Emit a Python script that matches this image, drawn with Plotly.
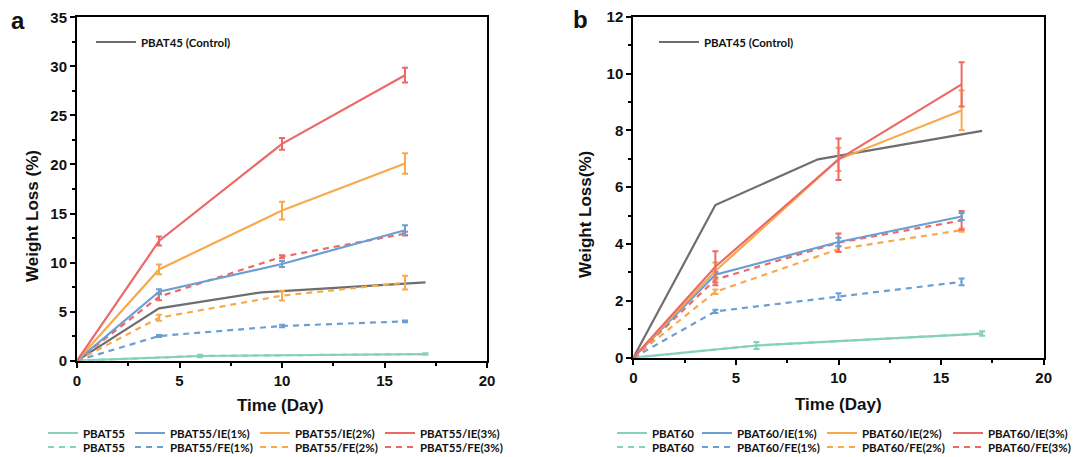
import plotly.graph_objects as go

W, H = 1086, 457

# ---------------- data ----------------
days = [0, 4, 10, 16]
days_ctrl = [0, 4, 9, 17]
days_neat = [0, 6, 17]

# panel a (PBAT55 series)
ctrl_a = [0, 5.34, 6.97, 7.99]
neat_a = [0, 0.48, 0.68]
neat_a_err = [0, 0.12, 0.08]
ie1_a = [0, 7.03, 9.86, 13.3]
ie1_a_err = [0, 0.25, 0.3, 0.5]
ie2_a = [0, 9.3, 15.3, 20.1]
ie2_a_err = [0, 0.5, 0.9, 1.05]
ie3_a = [0, 12.2, 22.1, 29.1]
ie3_a_err = [0, 0.45, 0.6, 0.75]
fe1_a = [0, 2.52, 3.54, 4.01]
fe1_a_err = [0, 0.1, 0.12, 0.1]
fe2_a = [0, 4.38, 6.63, 7.95]
fe2_a_err = [0, 0.3, 0.5, 0.7]
fe3_a = [0, 6.52, 10.6, 12.95]
fe3_a_err = [0, 0.35, 0.15, 0.2]

# panel b (PBAT60 series)
ctrl_b = [0, 5.37, 6.98, 7.98]
neat_b = [0, 0.43, 0.85]
neat_b_err = [0, 0.12, 0.08]
ie1_b = [0, 2.92, 4.07, 4.97]
ie1_b_err = [0, 0.1, 0.15, 0.12]
ie2_b = [0, 3.05, 6.98, 8.7]
ie2_b_err = [0, 0.3, 0.41, 0.7]
ie3_b = [0, 3.2, 6.98, 9.62]
ie3_b_err = [0, 0.55, 0.73, 0.78]
fe1_b = [0, 1.63, 2.15, 2.67]
fe1_b_err = [0, 0.06, 0.12, 0.12]
fe2_b = [0, 2.32, 3.82, 4.49]
fe2_b_err = [0, 0.08, 0.1, 0.06]
fe3_b = [0, 2.75, 4.05, 4.83]
fe3_b_err = [0, 0.2, 0.32, 0.33]

names_a = ["PBAT55", "PBAT55/IE(1%)", "PBAT55/IE(2%)", "PBAT55/IE(3%)",
           "PBAT55", "PBAT55/FE(1%)", "PBAT55/FE(2%)", "PBAT55/FE(3%)"]
names_b = ["PBAT60", "PBAT60/IE(1%)", "PBAT60/IE(2%)", "PBAT60/IE(3%)",
           "PBAT60", "PBAT60/FE(1%)", "PBAT60/FE(2%)", "PBAT60/FE(3%)"]
ctrl_name = "PBAT45 (Control)"

TEAL = "#86d0bd"
BLUE = "#6b9fd3"
ORANGE = "#f7aa4c"
RED = "#ec6a66"
GRAY = "#6e6e6e"
DASH = "6px,5px"

fig = go.Figure()


def add(x, y, err, name, color, dash, xa, ya, legend, lw=None):
    kw = {}
    if err is not None:
        kw["error_y"] = dict(type="data", array=err, color=color, thickness=2, width=3)
    fig.add_trace(go.Scatter(
        x=x, y=y, mode="lines", name=name,
        line=dict(color=color, width=2.2, dash=dash),
        xaxis=xa, yaxis=ya, legend=legend, cliponaxis=False,
        legendwidth=lw, **kw))


for (xa, ya, lg1, lg2, lgc, ctrl, neat, neat_err, series, names, widths) in [
    ("x", "y", "legend", "legend2", "legend5", ctrl_a, neat_a, neat_a_err,
     [(ie1_a, ie1_a_err), (ie2_a, ie2_a_err), (ie3_a, ie3_a_err),
      (fe1_a, fe1_a_err), (fe2_a, fe2_a_err), (fe3_a, fe3_a_err)], names_a,
     [42, 80, 80, 80]),
    ("x2", "y2", "legend3", "legend4", "legend6", ctrl_b, neat_b, neat_b_err,
     [(ie1_b, ie1_b_err), (ie2_b, ie2_b_err), (ie3_b, ie3_b_err),
      (fe1_b, fe1_b_err), (fe2_b, fe2_b_err), (fe3_b, fe3_b_err)], names_b,
     [40, 80, 81, 80]),
]:
    # dashed neat (legend only, hidden beneath the solid one)
    add(days_neat, neat, None, names[4], TEAL, DASH, xa, ya, lg2, widths[0])
    add(days_ctrl, ctrl, None, ctrl_name, GRAY, "solid", xa, ya, lgc)
    add(days_neat, neat, neat_err, names[0], TEAL, "solid", xa, ya, lg1, widths[0])
    cols = [BLUE, ORANGE, RED]
    for i in range(3):
        y, e = series[3 + i]
        add(days, y, e, names[5 + i], cols[i], DASH, xa, ya, lg2, widths[1 + i])
    for i in range(3):
        y, e = series[i]
        add(days, y, e, names[1 + i], cols[i], "solid", xa, ya, lg1, widths[1 + i])

tickfont = dict(family="Liberation Sans", size=15, color="#111", weight="bold")


def axis(domain, rng, dtick, mdtick):
    return dict(domain=domain, range=rng, dtick=dtick, tick0=0,
                showline=True, linecolor="black", linewidth=2, mirror=True,
                ticks="outside", ticklen=5, tickwidth=2, tickcolor="black",
                showgrid=False, zeroline=False, tickfont=tickfont,
                automargin=False, fixedrange=True,
                minor=dict(ticks="outside", ticklen=3, tickwidth=1.5,
                           tickcolor="black", dtick=mdtick, showgrid=False))


leg_font = dict(family="Lato", size=11.5, color="#111", weight="bold")


def legend(xpx, ypx, itemwidth=30):
    return dict(orientation="h", x=xpx / W, xanchor="left", y=1 - ypx / H,
                yanchor="middle", bgcolor="rgba(0,0,0,0)", font=leg_font,
                itemwidth=itemwidth, tracegroupgap=0, itemclick=False,
                itemdoubleclick=False)


fig.update_layout(
    width=W, height=H,
    margin=dict(l=0, r=0, t=0, b=0, autoexpand=False),
    paper_bgcolor="white", plot_bgcolor="white",
    showlegend=True,
    xaxis=axis([77 / W, 487 / W], [0, 20], 5, 2.5) | dict(anchor="y"),
    yaxis=axis([1 - 360.7 / H, 1 - 17.3 / H], [0, 35], 5, 2.5) | dict(anchor="x"),
    xaxis2=axis([633.3 / W, 1043.7 / W], [0, 20], 5, 2.5) | dict(anchor="y2"),
    yaxis2=axis([1 - 357.7 / H, 1 - 16.7 / H], [0, 12], 2, 1) | dict(anchor="x2"),
    legend=legend(43, 433),
    legend2=legend(43, 447),
    legend3=legend(612, 433),
    legend4=legend(612, 447),
    legend5=legend(91, 42, 40),
    legend6=legend(654, 42, 40),
)

title_font = dict(family="Liberation Sans", size=17, color="#111", weight="bold")
ann = [
    dict(text="a", x=18 / W, y=1 - 20 / H, font=dict(family="Liberation Sans", size=24, color="#111", weight="bold")),
    dict(text="b", x=580 / W, y=1 - 19 / H, font=dict(family="Liberation Sans", size=24, color="#111", weight="bold")),
    dict(text="Time (Day)", x=280 / W, y=1 - 405 / H, font=title_font),
    dict(text="Time (Day)", x=838 / W, y=1 - 404 / H, font=title_font),
    dict(text="Weight Loss (%)", x=32 / W, y=1 - 216 / H, font=title_font, textangle=-90),
    dict(text="Weight Loss(%)", x=585 / W, y=1 - 215 / H, font=title_font, textangle=-90),
]
for a in ann:
    a.update(xref="paper", yref="paper", showarrow=False, xanchor="center", yanchor="middle")
fig.update_layout(annotations=ann)

fig.write_html("out.html")
